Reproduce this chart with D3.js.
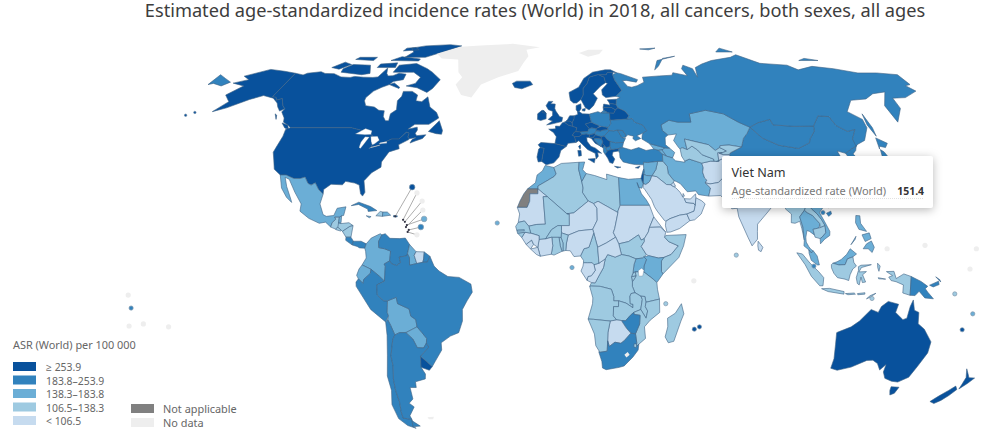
<!DOCTYPE html>
<html><head><meta charset="utf-8">
<script src="https://cdn.jsdelivr.net/npm/d3@7"></script>
<style>
html,body{margin:0;padding:0;background:#fff;overflow:hidden}
text,.title{font-family:"Noto Sans","Open Sans",sans-serif}
svg{position:absolute;left:0;top:0}
.title{position:absolute;left:0;top:1px;width:1070px;height:18px;line-height:18px;text-align:center;font-size:18.2px;color:#3d3d3d;white-space:nowrap}
</style></head><body><svg id="c" width="1000" height="432"></svg>
<script>
const chartTitle = "Estimated age-standardized incidence rates (World) in 2018, all cancers, both sexes, all ages";
const legendTitle = "ASR (World) per 100 000";
const legendLabels = ["\u2265 253.9","183.8\u2013253.9","138.3\u2013183.8","106.5\u2013138.3","< 106.5"];
const extraLabels = ["Not applicable","No data"];
const tooltipCountry = "Viet Nam", tooltipMeasure = "Age-standardized rate (World)", tooltipValue = "151.4";

const classHighest = ["United States","Canada","Australia","New Zealand","Uruguay","Ireland","United Kingdom","France","Spain","Portugal","Belgium","Netherlands","Germany","Denmark","Norway","Sweden","Finland","Iceland","Italy","Switzerland","Slovenia","Czechia","Slovakia","Croatia","Serbia","Greece","Latvia","Lithuania","Estonia","Belarus","Montenegro","Cyprus","Israel"];
const classHigh = ["Russia","China","Mongolia","Turkey","Poland","Ukraine","Romania","Bulgaria","Moldova","Austria","Hungary","Bosnia","Albania","North Macedonia","Brazil","Argentina","Chile","Peru","Venezuela","French Guiana","Cuba","Panama","Costa Rica","South Africa","Zimbabwe","Papua New Guinea","Japan","South Korea","North Korea","Taiwan","Lebanon","Puerto Rico"];
const classMid = ["Mexico","Colombia","Ecuador","Bolivia","Paraguay","Guyana","Belize","Kazakhstan","Iran","Egypt","Morocco","Kenya","Uganda","Thailand","Viet Nam","Malaysia","Philippines","Syria","Azerbaijan","Georgia","Armenia","Jordan","Dominican Republic","Jamaica","Nepal","Tunisia"];
const classLow = ["Algeria","Libya","Mali","Senegal","Gambia","Guinea-Bissau","Burkina Faso","Ghana","Togo","Benin","Cameroon","DR Congo","Angola","Zambia","Tanzania","Mozambique","Malawi","Namibia","Madagascar","Rwanda","Burundi","Somalia","South Sudan","Indonesia","Uzbekistan","Turkmenistan","Kyrgyzstan","Myanmar","Laos","Cambodia","Iraq","Honduras","Guatemala","El Salvador","Nicaragua","Haiti","Eswatini"];
const classLowest = ["Mauritania","Niger","Chad","Sudan","Ethiopia","Eritrea","Saudi Arabia","Yemen","Oman","UAE","Kuwait","Qatar","Afghanistan","Pakistan","India","Tajikistan","Nigeria","Central African Republic","Congo","Gabon","Botswana","Suriname","Sierra Leone","Liberia","Guinea","Cote d'Ivoire","Sri Lanka","Bhutan","Bangladesh"];
const classNotApplicable = ["Western Sahara"];
const classNoData = ["Greenland","Svalbard","Falkland Islands","Lesotho"];

const outlines = {
"Canada":["-141,69.6 -136,68.9 -134.5,69.6 -128,70.2 -125,69.5 -120,69.4 -115,68.1 -110,67.9 -108,68.3 -103,68 -98,67.9 -95.5,68.1 -94,71.8 -92,69.5 -90.5,68.5 -88,68.6 -85.5,69.6 -81.5,69.2 -81.3,67 -86,66.3 -87,65 -90,64 -93,62.5 -94.8,60 -94.5,58.8 -92.5,57 -88,56.5 -85,55.3 -82.3,55.1 -82,53 -80.5,51.5 -79,51.5 -79,54 -76.8,55.5 -78.5,58.8 -77.5,60.5 -78,62.4 -73.5,62.4 -70,61 -69.5,58.8 -66.5,58.5 -64.5,60.3 -61.5,56.5 -57.5,54.5 -56,52.5 -60,50.2 -66.5,50.2 -69,48.5 -65,49.2 -64.5,48.2 -65,47 -64,46.2 -60,46.5 -61,45.2 -64,44.3 -66,43.6 -65.5,44.8 -64,45.5 -66.9,45.1 -67.8,45.7 -67.8,47.1 -69.2,47.4 -70.5,46 -71.5,45 -74.7,45 -76.5,44.2 -79,43.4 -79,42.8 -82.5,42 -82.5,45.3 -84.5,46.5 -88.4,48.3 -89.5,48 -95,49 -123,49 -125,50 -127.5,51 -128,52.5 -130.3,54.7 -130,55.9 -132,56.9 -135.5,59.7 -137.5,59 -139,60.1 -141,60.3","-128,50.7 -125,50 -123.4,48.4 -125.5,48.9","-59.3,47.7 -55.5,51.5 -53,48 -53,46.7 -55.5,46.9","-80,73.7 -72,71.5 -68,70 -62,67 -64,63.5 -66,62 -72,63.8 -78,64.5 -74,65.5 -73,68 -78,70 -89,70 -89,73","-117,70 -105,69 -101,69.5 -105,73 -115,73.3 -118,71.5","-125,72 -121,74.3 -116,73.3 -120,71.3","-90,76.5 -78,76.5 -72,78.5 -62,82.3 -70,83 -85,82.3 -92,81 -88,79","-96,75 -80,74.8 -80,75.7 -92,76.8","-117,75.5 -106,75 -106,76.5 -116,76.5","-95,79.5 -86,80 -90,81.4 -95,81","-100,72 -90,72 -91,74 -100,73.5","-87,65 -81,63.5 -81,64 -85,65.7","-133,54 -131.5,52 -132,53.5"],
"United States":["-123,49 -124.7,48.4 -124,46 -124.2,42 -124.3,40.4 -122.5,37.7 -120.6,34.5 -117.2,32.5 -114.8,32.5 -111,31.3 -108.2,31.3 -106.5,31.8 -104.5,29.6 -103,29 -101.5,29.8 -99.5,27.5 -97.2,25.9 -97.4,27.5 -94.8,29.3 -90,29.1 -89,30.3 -85,29.7 -83,29 -81.8,26 -80.8,25.2 -80.1,26.5 -81.4,30.5 -79,33.3 -75.6,35.2 -76,37 -74,40.5 -70,41.6 -70.8,43 -67,44.8 -66.9,45.1 -67.8,45.7 -67.8,47.1 -69.2,47.4 -70.5,46 -71.5,45 -74.7,45 -76.5,44.2 -79,43.4 -79,42.8 -82.5,42 -82.5,45.3 -84.5,46.5 -88.4,48.3 -89.5,48 -95,49","-141,69.6 -141,60.3 -139,60.1 -137.5,59 -135.5,59.7 -132,56.9 -130,55.9 -131.5,55 -134,56.5 -136,58 -140,59.8 -146,60.8 -151,59.3 -154,58 -158,56.2 -163,54.8 -160,58.5 -162,59.5 -165,61 -161,64.5 -168,65.6 -162,67 -166.5,68.4 -157,71.2 -148,70.4"],
"Mexico":["-117.2,32.5 -114.8,32.5 -111,31.3 -108.2,31.3 -106.5,31.8 -104.5,29.6 -103,29 -101.5,29.8 -99.5,27.5 -97.2,25.9 -97.8,22.5 -95.9,18.8 -94.5,18.2 -91.5,18.5 -90.5,21 -87,21.5 -87.5,18.5 -88.3,18.4 -89.15,17.9 -91,17.9 -90.5,17.2 -91.8,16 -92.2,14.5 -94.5,16.2 -97,15.8 -101.5,17.5 -105.5,20 -105.5,22.5 -109,26.5 -112.8,31 -114.8,31.7 -113,28.5 -110,24 -109.5,23 -112,24.8 -115,28"],
"Guatemala":["-92.2,14.5 -91.8,16 -90.5,17.2 -91,17.9 -89.15,17.9 -89.2,15.9 -88.2,15.7 -89.3,14.4 -90.2,13.8"],
"Belize":["-89.15,17.9 -88.3,18.4 -88.2,16 -89.2,15.9"],
"Honduras":["-89.2,15.9 -88.2,15.7 -85,16 -83.2,15 -84.5,14.7 -87.3,13 -87.8,13.4 -89.3,14.4"],
"El Salvador":["-90.2,13.8 -89.3,14.4 -87.8,13.4 -88,13.1 -90,13.6"],
"Nicaragua":["-87.3,13 -84.5,14.7 -83.2,15 -83.7,11 -85.7,11"],
"Costa Rica":["-85.7,11 -83.7,11 -82.6,9.6 -83,8.3 -85.7,9.9"],
"Panama":["-83,8.3 -82.6,9.6 -79.5,9.6 -77.4,8.7 -77.9,7.2 -80,7.3 -81,7.8"],
"Colombia":["-77.4,8.7 -75.5,10.7 -72,12.2 -71.3,11.8 -72.5,9.5 -72.3,7.4 -70,7 -67.5,6.2 -67.8,2.8 -70,1.7 -69.5,1 -69.9,-4.2 -72,-2.4 -75.2,-0.1 -78.8,1.4 -77.2,3.8 -77.5,6 -77.9,7.2"],
"Venezuela":["-71.3,11.8 -70,12.2 -68,10.6 -64,10.5 -61.8,10.7 -60,8.5 -60.7,5.2 -61.2,4.5 -64,4.1 -63.4,2.2 -65,1.2 -67,1.8 -67.8,2.8 -67.5,6.2 -70,7 -72.3,7.4 -72.5,9.5"],
"Guyana":["-60,8.5 -57.3,6 -58,4.7 -56.9,1.9 -59.8,1.3 -59.9,3.9 -60.7,5.2"],
"Suriname":["-57.3,6 -54,5.9 -54.2,3.5 -54.5,2.3 -56.9,1.9 -58,4.7"],
"French Guiana":["-54,5.9 -51.7,4.4 -52.7,2.4 -54.5,2.3 -54.2,3.5"],
"Ecuador":["-78.8,1.4 -75.2,-0.1 -75.5,-1.5 -78.2,-3.6 -78.5,-5 -80.3,-3.4 -81,-2.2 -80,0"],
"Peru":["-80.3,-3.4 -78.5,-5 -78.2,-3.6 -75.5,-1.5 -75.2,-0.1 -72,-2.4 -69.9,-4.2 -73,-5.5 -73,-9 -70.5,-11 -69,-11 -69.4,-15 -69,-16.2 -70.4,-18.3 -76,-14 -81.3,-6 -81.3,-4.5"],
"Bolivia":["-69,-11 -65.4,-9.8 -65,-12 -60.5,-13.8 -60,-16.3 -58.1,-17.5 -57.8,-20 -62.6,-22 -65.2,-22 -67.2,-22.8 -68.5,-19.5 -69.5,-17.5 -69,-16.2 -69.4,-15"],
"Paraguay":["-62.6,-22 -57.8,-20 -56,-22 -54.3,-24 -54.6,-25.6 -56,-27.3 -58.6,-27.2 -60,-24.2"],
"Chile":["-70.4,-18.3 -69.5,-17.5 -68.5,-19.5 -67.2,-22.8 -68.3,-24.5 -70,-30 -70,-33.5 -71.2,-38 -71.7,-42 -71.6,-46 -72.5,-49.5 -72.3,-51.8 -68.4,-52.3 -68.6,-54.9 -67.5,-55.5 -71,-54.5 -74.5,-52 -75.5,-47 -73.5,-42 -73.5,-37 -71.5,-30 -70.4,-23"],
"Argentina":["-65.2,-22 -62.6,-22 -60,-24.2 -58.6,-27.2 -56,-27.3 -54.6,-25.6 -53.8,-27 -57.7,-30.2 -58.3,-34 -57,-36.3 -57.5,-38 -62,-39 -62.3,-41 -65,-41 -65.2,-45 -67.5,-46.5 -65.8,-47.8 -69,-51 -68.4,-52.3 -72.3,-51.8 -72.5,-49.5 -71.6,-46 -71.7,-42 -71.2,-38 -70,-33.5 -70,-30 -68.3,-24.5 -67.2,-22.8","-68.6,-52.7 -65.2,-54.7 -68.6,-54.9"],
"Uruguay":["-57.7,-30.2 -53.5,-33.7 -55,-35 -58.3,-34"],
"Brazil":["-59.9,3.9 -59.8,1.3 -56.9,1.9 -54.5,2.3 -52.7,2.4 -51.7,4.4 -50,1 -48,-0.7 -44.5,-2.6 -40,-2.9 -35.3,-5.2 -34.8,-8 -37,-11 -39,-14 -39.2,-18 -41,-22 -44.5,-23.2 -48.5,-25.5 -48.6,-28 -52,-32 -53.5,-33.7 -57.7,-30.2 -53.8,-27 -54.6,-25.6 -54.3,-24 -56,-22 -57.8,-20 -58.1,-17.5 -60,-16.3 -60.5,-13.8 -65,-12 -65.4,-9.8 -69,-11 -70.5,-11 -73,-9 -73,-5.5 -69.9,-4.2 -69.5,1 -70,1.7 -67.8,2.8 -67,1.8 -65,1.2 -63.4,2.2 -64,4.1 -61.2,4.5 -60.7,5.2"],
"Cuba":["-84.9,21.9 -82,23.1 -77,21.6 -74.2,20.2 -77.7,19.9 -78,20.7 -82,22.3"],
"Haiti":["-74.4,18.4 -72.8,19.9 -71.7,19.7 -71.7,18.2"],
"Dominican Republic":["-71.7,19.7 -69.9,19.7 -68.4,18.6 -71.7,18.2"],
"Puerto Rico":["-67.2,18.5 -65.7,18.4 -65.7,18 -67.2,18"],
"Jamaica":["-78.3,18.4 -76.3,18.1 -77,17.7"],
"Greenland":["-73,78.2 -68,76 -58,75.5 -54,70 -51,68 -53,65 -48.5,61 -43,60 -40,65 -32,68 -22,70.5 -20,74 -18,77 -20,80 -12,81.5 -30,83.5 -50,82.5 -62,81.8"],
"Svalbard":["12,78.5 17,76.8 24,78 27,80 18,80"],
"Falkland Islands":["-61,-51.5 -58,-51.3 -58.5,-52.2 -60.5,-52.2"],
"Iceland":["-24,65.5 -22,66.4 -15,66.4 -13.5,65 -18.8,63.4 -22.5,63.9"],
"Ireland":["-10,52 -10,54 -8,55.3 -7.2,55.2 -6,54.2 -6,52.2 -8.5,51.6"],
"United Kingdom":["-5.7,50 -3.5,50.3 1.3,51.2 1.7,52.7 0.3,53 -1.5,55 -2,56 -1.8,57.6 -4,57.7 -3,58.6 -5,58.6 -6.2,57 -5,55.5 -3,54.9 -3,53.4 -5,52 -3,51.4","-6,54.2 -7.2,55.2 -8,54.5"],
"Portugal":["-9.5,38.7 -8.9,37 -7.4,37.2 -7,39.5 -6.5,41.8 -8.2,42 -8.9,41.5"],
"Spain":["-9.2,43 -8.2,42 -6.5,41.8 -7,39.5 -7.4,37.2 -5.5,36 -2.2,36.7 0,38.7 0.8,41 3.2,42.4 -1.8,43.4 -8,43.8"],
"France":["-1.8,43.4 3.2,42.4 4,43.5 7.5,43.8 7,45.9 6,46.3 7,47.5 7.6,47.6 8.2,49 6.2,49.5 4.2,50 2.5,51 1.6,50.8 0.3,49.5 -1.6,49.6 -1.6,48.6 -4.7,48.5 -2.5,47.3 -1.2,45.8","8.6,42.4 9.4,43 9.5,42 9.2,41.4"],
"Belgium":["2.5,51 4.2,50 6.2,49.5 6.1,50.8 5,51.4 3.4,51.4"],
"Netherlands":["3.4,51.4 5,51.4 6.1,50.8 7,52.2 7.1,53.3 5,53.3 4,52"],
"Germany":["7.1,53.3 7,52.2 6.1,50.8 6.2,49.5 8.2,49 7.6,47.6 9.6,47.5 13,47.6 13.8,48.7 12.2,50.3 15,51 14.2,53.9 11,54 9.5,54.8 8.7,54.8 8.8,53.8"],
"Denmark":["8.7,54.8 9.5,54.8 10.5,56 10.5,57.7 8.2,57 8.1,55.5","11,55.7 12.5,56 12.2,55 11,55.1"],
"Switzerland":["6,46.3 7,45.9 9,45.9 10.4,46.6 9.6,47.5 7.6,47.6 7,47.5"],
"Austria":["9.6,47.5 10.4,46.6 12.3,46.8 13.7,46.5 16.1,46.9 17,48 17,48.7 15,49 13.8,48.7 13,47.6"],
"Italy":["7.5,43.8 8.8,44.4 10.5,43 12.5,41.3 15.7,40 16,38 17,39 16.8,40.3 18.5,40 16,41.8 14,42.5 12.5,44.2 12.4,45.5 13.6,45.6 13.7,46.5 12.3,46.8 10.4,46.6 9,45.9 7,45.9","12.5,38 15.6,38.2 15.1,36.7","8.2,41 9.6,41 9.7,39.2 8.5,39"],
"Slovenia":["13.6,45.5 15.3,45.5 16.5,46.5 16.1,46.9 13.7,46.5"],
"Croatia":["13.6,45.5 15.3,45.5 16.5,46.5 18.9,45.9 19,45 16,45.2 15.8,44.7 17.5,43 18.5,42.4 16,43.5 14.5,45.2"],
"Bosnia":["16,45.2 19,45 19.5,44 19.2,43.5 18.5,42.4 17.5,43 15.8,44.7"],
"Serbia":["19,45 18.9,45.9 20.3,46.1 21.5,44.8 22.7,44.2 22.4,42.4 20.6,41.9 20,42.8 19.2,43.5 19.5,44"],
"Montenegro":["19.2,43.5 20,42.8 19.4,41.9 18.5,42.4"],
"Albania":["19.4,41.9 20,42.8 20.6,41.9 21,40.9 21,40.6 20,39.7 19.4,40.5"],
"North Macedonia":["20.6,41.9 22.4,42.4 23,41.3 21,40.9"],
"Greece":["20,39.7 21,40.6 21,40.9 23,41.3 26.2,41.7 26,40.8 23.5,40.5 23,39.3 24,38 23,36.5 21.7,36.8 21,38.3","23.6,35.5 26.3,35.2 24.8,34.9"],
"Cyprus":["32.4,35 34.5,35.6 33.7,34.8"],
"Bulgaria":["22.7,44.2 25,43.7 28.6,43.8 27.8,42 26.2,41.7 23,41.3 22.4,42.4"],
"Romania":["20.3,46.1 21.5,44.8 22.7,44.2 25,43.7 28.6,43.8 29.7,45.2 28.2,45.5 26.6,48.2 24.9,47.9 22.9,48"],
"Moldova":["26.6,48.2 28.2,45.5 29.7,45.6 30,46.5 29,48"],
"Hungary":["16.1,46.9 16.5,46.5 18.9,45.9 20.3,46.1 22.9,48 22.1,48.4 20,48.2 18.8,47.8 17,48"],
"Slovakia":["17,48 18.8,47.8 20,48.2 22.1,48.4 22.5,49.1 19.5,49.5 17.5,48.9 17,48.7"],
"Czechia":["12.2,50.3 13.8,48.7 15,49 17,48.7 17.5,48.9 18.8,49.6 16.5,50.4 15,51"],
"Poland":["14.2,53.9 15,51 16.5,50.4 18.8,49.6 19.5,49.5 22.5,49.1 24,50.5 23.7,52 23.7,54.3 19.5,54.4 18.3,54.8"],
"Lithuania":["21,55.3 21,56.4 25,56.3 26.7,55.5 25.7,54.2 23.7,54.3 23,54.4"],
"Latvia":["21,56.4 21.5,57.6 24.4,57.2 24.4,57.9 27.3,57.5 28,56.2 26.7,55.5 25,56.3"],
"Estonia":["23.5,59.2 28,59.4 27.5,57.6 27.3,57.5 24.4,57.9 24,58.5"],
"Belarus":["23.7,52 23.7,54.3 25.7,54.2 26.7,55.5 28,56.2 31,55 32.7,53.4 31.5,52.1 23.9,51.7"],
"Ukraine":["24,50.5 22.5,49.1 22.1,48.4 22.9,48 24.9,47.9 26.6,48.2 29,48 30,46.5 29.7,45.6 31,46.5 33.5,46 33,45.2 34,44.4 36.5,45.2 35,46.2 38,47.1 40,48 38.5,50 35,51 34,52.3 31.5,52.1 23.9,51.7 23.7,52"],
"Russia":["30.8,69.8 33,69.4 41,67 40,66 35,66.7 33,66.6 35,64.3 37,64 40,64.6 44,66 44,68 53,68.5 60,68.8 61,69.8 68,68.6 67,71.5 69,73 73,71.5 73,68 75,72 80,73.5 87,75 100,76.5 105,77.7 113,73.8 127,73 130,71 140,72.5 150,71.5 160,69.7 170,69.7 180,69 180,65 177,64.6 179,62.5 170,60 163.5,59.8 162,56 156.8,51 155.8,57 163,62.2 156,61.5 150,59.5 142,59 135.5,54.8 141,52 141,49 136,44.5 131.5,43 130.7,42.4 131,45 135,48.4 131,47.7 127.5,49.8 126,53 121,53.3 117,49.6 108,49.5 98.7,50 98,52 92,50.8 87.5,49.2 83,51 77,54 71,55 69,55.3 61,54 61,51 55,51 51,51.7 47,50 47,48 49,46.4 47.5,45.5 47,43 48.5,41.8 46.5,41.9 43.5,42.6 40,43.4 37,45 37.5,46.5 38,47.1 40,48 38.5,50 35,51 34,52.3 31.5,52.1 32.7,53.4 31,55 28,56.2 27.3,57.5 27.5,57.6 28,59.4 30,60 28,60.5 31.5,62.8 29,66.9 28.5,69","-180,69 -175,67.5 -170,66 -172.5,64.5 -178,65.5 -180,65","52,71 56,75 68,77 60,76 55,72.5","95,79 105,79 100,81","137,75 148,75 142,76","142,54 143.5,49 142.5,46 142,50","50,80.5 60,81 55,80","19.7,54.4 23,54.4 21,55.3"],
"Finland":["21,69 23.7,68 24,65.8 25,65.5 21.5,63 21.5,61 23,60 28,60.5 31.5,62.8 29,66.9 28.5,69 29,70 26,70 25,69"],
"Norway":["5,62 5.5,59 7,58 8.5,58 10.7,59.3 12,61 12.2,63.5 14.5,65.5 16,68 20.6,69 21,69 25,69 26,70 29,70 30.8,69.8 28,71 25,71 18,70 13,67.5 10,64"],
"Sweden":["10.7,59.3 12.5,56.3 14.2,55.4 16.5,57 18.8,59.8 17,61.5 21.3,64.5 24,65.8 23.7,68 21,69 20.6,69 16,68 14.5,65.5 12.2,63.5 12,61"],
"Turkey":["26.2,41.7 28,42 31.5,41.2 35,42 38,41 41.5,41.5 43.5,41.1 44.8,39.7 44.5,37.2 42.3,37.2 38,36.8 36.2,36.9 36,36 32.5,36.1 30.5,36.4 27.5,37 26.3,38.5 26.3,40 26,40.8"],
"Georgia":["40,43.4 43.5,42.6 46.5,41.9 45,41.2 43.5,41.1 41.5,41.5"],
"Armenia":["43.5,41.1 45,41.2 46.5,39 44.8,39.7"],
"Azerbaijan":["45,41.2 46.5,41.9 48.5,41.8 50.3,40.3 48.9,38.4 46.5,39"],
"Iran":["44.8,39.7 46.5,39 48.9,38.4 50,37.4 53.9,36.9 53.9,37.3 56,38 61,36.6 61.2,35 60.6,33.5 61,31.4 61.8,30.7 60.9,29.8 62.8,28 61.6,25.2 57.5,25.7 56.5,27 53,26.7 50.5,29.5 48.8,30.3 48,30.5 46,33 46,35.5 44.5,37.2"],
"Iraq":["42.3,37.2 44.5,37.2 46,35.5 46,33 48,30.5 47.7,30 46.5,29.1 44.7,29.2 41,31.9 39,32.2 41,34.4"],
"Syria":["36.2,36.9 38,36.8 42.3,37.2 41,34.4 39,32.2 36.8,32.3 35.6,32.7 35.9,33.5 35.9,34.6 36,36"],
"Lebanon":["35.1,33.1 35.6,32.7 35.9,33.5 35.9,34.6 35.5,34"],
"Jordan":["35,29.5 36.1,29.2 37.5,30 38,30.5 39,32.2 36.8,32.3 35.6,32.7"],
"Israel":["34.3,31.3 35,29.5 35.6,32.7 35.1,33.1"],
"Saudi Arabia":["35,29.5 36.1,29.2 37.5,30 38,30.5 39,32.2 41,31.9 44.7,29.2 46.5,29.1 47.5,28.5 48.5,28 50,26.5 50.8,25 51.5,24.3 52,23 55.2,22.7 55.7,22 55,20 52,19 49,18.6 45,17.4 43.3,16.5 42.7,16.8 40,20 39,21.5 38,24 35.5,27.5 34.9,28.1"],
"Yemen":["43.3,16.5 45,17.4 49,18.6 52,19 53,16.7 48.7,14 45,12.8 43.5,12.7 43,15"],
"Oman":["52,19 55,20 55.7,22 56.2,24.7 56.5,24.5 58.5,23.6 59.8,22.5 57.8,19 55,17 53,16.7"],
"UAE":["51.5,24.3 52,23 55.2,22.7 55.7,22 56.2,24.7 56.3,26 54,24.2"],
"Qatar":["50.8,25 51.2,26.1 51.6,25.2"],
"Kuwait":["47.7,30 48.4,28.6 47.5,28.5 46.5,29.1"],
"Afghanistan":["61,36.6 65,37.3 67.5,37.2 70,38 71.5,37 74.8,37.3 71.5,36.3 71,34 69.3,31.9 66.4,29.9 62.8,29.4 60.9,29.8 61.8,30.7 61,31.4 60.6,33.5 61.2,35"],
"Pakistan":["60.9,29.8 62.8,29.4 66.4,29.9 69.3,31.9 71,34 71.5,36.3 74.8,37.3 77.8,35.5 74,33 75,32 73.5,30 70,28 71,25 68.2,23.8 66.5,25.4 61.6,25.2 62.8,28"],
"India":["68.2,23.8 71,25 70,28 73.5,30 75,32 74,33 77.8,35.5 79,32.5 81,30.2 80.1,28.8 84,27.4 88,26.4 88.2,27.9 89,27 92,26.8 94,29.2 97.3,28.2 95,25.5 94,23.9 93.3,22 92.5,22.5 92,25 88.5,25.5 89,22 87,21.5 85,19.7 80.3,15.5 80,13 79.8,10.3 77.5,8 76,11 73,18 72.7,21 70.5,20.8 69,22.3"],
"Nepal":["80.1,28.8 81,30.2 84,29 88.2,27.9 88,26.4 84,27.4"],
"Bhutan":["89,27 92,26.8 92,28 89.5,28.1 88.2,27.9"],
"Bangladesh":["88.5,25.5 92,25 92.5,22.5 91.5,22.5 89,22"],
"Sri Lanka":["80,9.6 81.8,7.5 81,6 80,6.5 79.8,8"],
"Myanmar":["92.3,20.8 93.3,22 94,23.9 95,25.5 97.3,28.2 98.7,27.5 98,24 101,21.8 100,20.3 97.7,18 98.5,14.5 98.6,10 98,14 97.5,16.5 95.5,15.8 94,16 94.5,19"],
"Thailand":["97.7,18 100,20.3 101,19.5 103,18.5 105.5,15.7 105,14.2 102.5,13.7 102.9,11.7 101,13 100,13.3 99.3,11 99.3,9.3 100.2,7.8 101,6.8 102,6.2 101,5.6 100.2,6.6 98.3,8 98.6,10 98.5,14.5"],
"Laos":["101,21.8 102,22.4 103,20.8 105,19 106.5,17 107.5,15 105.5,14.3 105.5,15.7 103,18.5 101,19.5 100,20.3"],
"Cambodia":["102.5,13.7 105,14.2 105.5,14.3 107.5,15 107.5,12.5 105.8,11 105,10.5 103,11"],
"Viet Nam":["102,22.4 105.5,23 108,21.5 106,19.5 107.5,16.5 109.2,13 109,11.6 106.8,10.3 105,8.7 105,10.5 105.8,11 107.5,12.5 107.5,15 106.5,17 105,19 103,20.8"],
"China":["74.8,37.3 77.8,35.5 79,32.5 81,30.2 84,29 88.2,27.9 89.5,28.1 92,28 94,29.2 97.3,28.2 98.7,27.5 98,24 101,21.8 102,22.4 105.5,23 108,21.5 110,21.2 113.5,22.3 117,23.5 120,26.5 122,30 120.5,33 119,35 122.5,37 119,37.5 118,39 121.5,39 121.3,40.8 124.4,40 128,41.5 130.7,42.4 131.5,43 131,45 135,48.4 131,47.7 127.5,49.8 126,53 121,53.3 117,49.6 116,47.8 112,45 111,43.7 105,41.7 97,42.8 91,45.3 87.5,49.2 85,47 82.5,45.3 80.2,42.2 74.5,40.2 73.7,39.5","108.8,19.3 110.7,20 110.8,19 109.5,18.2"],
"Mongolia":["87.5,49.2 91,45.3 97,42.8 105,41.7 111,43.7 112,45 116,47.8 117,49.6 108,49.5 98.7,50 98,52 92,50.8"],
"North Korea":["124.4,40 125,38 126.5,37.8 128.3,38.6 127.5,39.8 129.5,41 130.7,42.4 128,41.5"],
"South Korea":["126.5,37.8 125.3,34.5 127.5,34.7 129.3,35.3 129.5,37 128.3,38.6"],
"Japan":["130.9,34 133,35.5 136,35.7 137,37 139.5,38.5 140.5,41.3 141.5,40.5 142,39 141,36 140,35 137,34.6 135.5,33.7 133,34.3 131.5,34","130,33.5 131.7,33.5 131,31.3 130.3,31.5","132.5,33.9 134.5,34.2 134,33.4 133,32.8","140.3,41.5 141.7,45.4 145.3,43.5 143.3,42 141,42.5"],
"Taiwan":["120.2,23 121,25 122,25 121,22"],
"Kazakhstan":["47,50 51,51.7 55,51 61,51 61,54 69,55.3 71,55 77,54 83,51 87.5,49.2 85,47 82.5,45.3 80.2,42.2 75,42.9 71,42.7 70.5,42 68.2,41 66,43 61,44 56,45 56,41.3 54,42 53,41.5 52.5,42 51,44.5 53,46.8 49,46.4 47,48"],
"Turkmenistan":["53,41.5 54,42 56,41.3 58.5,42.5 60.5,41.2 62,39.5 66.5,38 66.5,37.3 65,37.3 61,36.6 56,38 53.9,37.3 53,39"],
"Uzbekistan":["56,45 61,44 66,43 68.2,41 70.5,42 71.7,41.5 73,40.8 71,40.2 69,40.2 68.5,37.2 67.5,37.2 66.5,37.3 66.5,38 62,39.5 60.5,41.2 58.5,42.5 56,41.3"],
"Kyrgyzstan":["71,42.7 75,42.9 80.2,42.2 74.5,40.2 73.7,39.5 71,39.5 69.5,40 71,40.2 73,40.8 71.7,41.5 70.5,42"],
"Tajikistan":["68.5,37.2 69,40.2 71,40.2 69.5,40 71,39.5 73.7,39.5 74.8,37.3 71.5,37 70,38 67.5,37.2"],
"Malaysia":["100.2,6.6 101,5.6 102,6.2 103.4,4.5 104.2,1.4 103.4,1.4 101,3 100.2,5.5","109.6,2 111.3,2.5 113,3.3 115.2,5 116.8,7 119.2,5.2 117.7,4.2 115.5,3.5 114.5,1.5 112,1.4"],
"Indonesia":["95.3,5.6 97.5,5.2 100.5,2 104,-1 106,-3 105.8,-5.8 104.5,-5.8 101,-2.5 98.5,1.5","105.3,-6.8 108.5,-6.7 114.4,-7.8 114.4,-8.7 108,-7.8","109,1.5 109.6,2 112,1.4 114.5,1.5 115.5,3.5 117.7,4.2 118,2.3 119,1 117.5,0 116.5,-2 116,-4 114.5,-3.5 111.5,-3 110,-1.5 109,0.4","119.8,0.8 120.8,1.3 125,1.5 121,0.5 120,-1 123,-0.9 121.5,-2 122.8,-4.5 121.5,-4.7 120.9,-2.8 120.3,-5.5 119.5,-5 119,-3 119.8,-0.5","115,-8.5 116.7,-8.4 118.5,-8.3 119,-8.7 116,-8.9","119.8,-8.5 122.8,-8.2 122.8,-8.7 120,-8.9","123.6,-10.3 125,-9.2 127.2,-8.4 125,-9.8","131,-0.9 134,-0.8 135,-3.3 138,-1.7 141,-2.6 141,-9.1 138,-8.3 138,-5.5 135,-4.4 133,-4 132,-2.8 133.5,-2.3","127.8,-3 130.8,-3.5 128,-3.4","127.5,2 128.5,1 128,-0.8 127.5,0.5"],
"Papua New Guinea":["141,-2.6 145,-4.3 147.8,-6 146.9,-6.8 148,-8 150.5,-10.3 147,-10 144.5,-7.7 143,-9.2 141,-9.1","148.5,-5.6 152,-4.2 152.3,-5.4 150,-6.2","150.8,-2.7 152.9,-4.5 152.5,-3.7"],
"Philippines":["120.6,18.5 122.2,18.4 122,15.8 124,13 121,13.7 120,16","122,7 123.5,8.7 125.5,9.7 126.5,7.5 125.5,5.7 124,7","117.2,8.4 119.5,11.3 119,10.2","122,11.8 125,12.5 125.5,10.5 123,9.5"],
"Australia":["113.5,-22 114,-26 115,-31 115,-34.3 118,-35 123.5,-33.9 129,-31.6 131.5,-31.5 134,-32.7 136,-34.9 137.8,-33 138,-35.6 140,-37.8 143.5,-38.8 146.4,-39.1 150,-37.4 151.3,-33.8 153.2,-29 153,-25.2 149,-20.8 146,-18.9 145.4,-15 143.5,-14.3 142.5,-10.7 141.6,-13 141,-17 139.5,-17.5 136,-15 136.8,-12.2 132.5,-11.2 130,-13 129,-15 126,-14 122,-18 119,-20 114,-21.8","144.7,-40.7 148.3,-40.9 148,-43 146.5,-43.6 145.2,-42"],
"New Zealand":["172.7,-34.5 174.5,-36.2 176,-37.6 178.5,-37.7 177,-39.5 175,-41.5 174.8,-39.8 174.7,-37.5","172.7,-40.5 174.3,-41.7 172.8,-43.8 171,-45.5 169,-46.6 166.5,-45.9 168.5,-44 171,-42"],
"Morocco":["-5.9,35.8 -2.2,35.1 -1.2,32.9 -2,32 -5,30.5 -8.7,28.7 -8.7,27.7 -13,27.7 -9.8,29.8 -9.2,32.5 -7,33.9"],
"Western Sahara":["-13,27.7 -8.7,27.7 -8.7,26 -12,26 -12,23.4 -13,21.3 -17,21.3 -16,23.5 -14.5,26"],
"Algeria":["-2.2,35.1 1,36.5 8.6,36.9 8.3,34.5 9.5,30.2 10,28 9.7,26.5 12,23.5 6,19.4 3.2,19.1 -4.8,25 -8.7,27.7 -8.7,28.7 -5,30.5 -2,32 -1.2,32.9"],
"Tunisia":["8.6,36.9 11,37 10,34.3 11.5,33 9.5,30.2 8.3,34.5"],
"Libya":["9.5,30.2 11.5,33 15,32.3 20,30.9 20,32.8 25,31.6 25,22 24,20 24,19.5 16,23.4 14.2,22.6 12,23.5 9.7,26.5 10,28"],
"Egypt":["25,31.6 29,31 32,31.2 34.3,31.3 35,29.5 34.3,27.9 33,28.2 32.5,29.9 34,26 35.8,23.9 37,22 25,22"],
"Mauritania":["-17,21.3 -13,21.3 -12,23.4 -12,26 -8.7,26 -8.7,27.7 -4.8,25 -6.5,25 -5.5,15.5 -9,15.4 -12.2,14.8 -14,16.6 -16.5,16.1 -16,19"],
"Mali":["-4.8,25 3.2,19.1 4.2,19 4.2,15 1,15 -0.5,15 -3,13.6 -5.4,10.4 -8,10.2 -8,11.5 -11.4,12.4 -12.2,14.8 -9,15.4 -5.5,15.5 -6.5,25"],
"Niger":["3.2,19.1 6,19.4 12,23.5 14.2,22.6 15.5,21 15.5,16.9 13.6,13.7 8,13.2 3.7,11.7 1,12.5 1,13.3 1,15 4.2,15 4.2,19"],
"Chad":["14.2,22.6 16,23.4 24,19.5 22.5,14 21.9,12.6 22.8,11 19,9 15.5,7.5 14,12.5 13.6,13.7 15.5,16.9 15.5,21"],
"Sudan":["25,22 37,22 38.5,18 36.5,14.3 36,12.8 34.3,10.5 33,10 32,11.8 28,9.5 24,8.7 22.8,11 21.9,12.6 22.5,14 24,19.5 24,20"],
"South Sudan":["24,8.7 28,9.5 32,11.8 33,10 34.3,10.5 34.3,9.5 33,7.8 35,5 33.5,3.8 30.8,3.5 28,4.5 25,5"],
"Eritrea":["36.5,14.3 38.5,18 43,12.7 41,14.5 37,14.4"],
"Ethiopia":["36,12.8 36.5,14.3 37,14.4 41,14.5 43,12.7 42.5,11 44,9.5 47.9,8 44.9,5 42,4 39.8,3.8 35.9,4.6 35,5 33,7.8 34.3,9.5 34.3,10.5"],
"Somalia":["43,11.6 51.2,11.9 50,8 48,4 41.6,-1.7 41,-0.9 41,2.8 42,4 44.9,5 47.9,8 44,9.5 42.5,11"],
"Kenya":["34,4.2 35.9,4.6 39.8,3.8 42,4 41,2.8 41,-0.9 41.6,-1.7 39.2,-4.7 37.7,-3.5 33.9,-1 34,1 35,3.3"],
"Uganda":["30.8,3.5 33.5,3.8 34,4.2 35,3.3 34,1 33.9,-1 30.5,-1 29.6,-1.4 30,1.5"],
"Tanzania":["30.5,-1 33.9,-1 37.7,-3.5 39.2,-4.7 39.5,-7 40.4,-10.4 35,-11.5 34.5,-9.5 32.9,-9.4 30.5,-8.2 29.4,-6 29.4,-4.4 30.5,-3 30.8,-2.4"],
"Rwanda":["29.6,-1.4 30.5,-1 30.8,-2.4 29,-2.7"],
"Burundi":["29,-2.7 30.8,-2.4 30.5,-3 29.4,-4.4"],
"DR Congo":["30.8,3.5 30,1.5 29.6,-1.4 29,-2.7 29.4,-4.4 29.4,-6 30.5,-8.2 28.9,-8.5 28.5,-9.5 28.7,-12 29.8,-12.2 29.8,-13.4 27,-11.8 24,-11 22,-11 22,-9.5 21,-7 16.5,-6 13,-5.9 12.3,-6 13,-4.7 14.5,-4.8 16.2,-2 17.8,0.5 18.5,3.5 19.5,5 22.5,4.1 25,5 28,4.5"],
"Congo":["11.2,-3.9 13,-4.7 14.5,-4.8 16.2,-2 17.8,0.5 18.5,3.5 16,2 14,1.5 14.5,-0.5 13,-2.3 11.6,-2.6"],
"Gabon":["8.8,-0.7 9.6,1 9.8,2.2 11.3,2.2 13.3,2.2 14,1.5 14.5,-0.5 13,-2.3 11.6,-2.6 11.2,-3.9"],
"Cameroon":["8.6,4.5 9.8,3 9.8,2.2 11.3,2.2 13.3,2.2 14,1.5 16,2 15.5,7.5 14,12.5 13,10 12,7.5 10,7"],
"Central African Republic":["15.5,7.5 19,9 22.8,11 24,8.7 25,5 22.5,4.1 19.5,5 18.5,3.5 16,2"],
"Nigeria":["2.7,6.4 4.5,6.3 6,4.3 8.6,4.5 10,7 12,7.5 13,10 14,12.5 13.6,13.7 8,13.2 3.7,11.7 3,9"],
"Benin":["1.6,6.2 2.7,6.4 3,9 3.7,11.7 1,12.5 0.8,10.9 1.6,9"],
"Togo":["1.2,6.1 1.6,6.2 1.6,9 0.8,10.9 0,11 0.5,8"],
"Ghana":["-3.1,5.1 -2,4.8 1.2,6.1 0.5,8 0,11 -2.9,11 -2.5,8"],
"Burkina Faso":["-5.4,10.4 -3,13.6 -0.5,15 1,15 1,13.3 1,12.5 0.8,10.9 0,11 -2.9,11"],
"Cote d'Ivoire":["-8,10.2 -5.4,10.4 -2.9,11 -2.5,8 -3.1,5.1 -7.5,4.4 -8.5,7.5"],
"Liberia":["-11.4,6.9 -8.5,7.5 -7.5,4.4 -9,5"],
"Sierra Leone":["-13.2,8.5 -11,10 -10.2,8.5 -11.4,6.9"],
"Guinea":["-15,10.9 -13.7,12.7 -11.4,12.4 -8,11.5 -8,10.2 -8.5,7.5 -10.2,8.5 -11,10 -13.2,8.5"],
"Guinea-Bissau":["-16.7,12.4 -13.7,12.7 -15,10.9"],
"Senegal":["-17.5,14.7 -16.5,16.1 -14,16.6 -12.2,14.8 -11.4,12.4 -13.7,12.7 -16.7,12.4"],
"Gambia":["-16.8,13.5 -14,13.6 -14,13.2 -16.8,13.1"],
"Angola":["12.3,-6 13,-5.9 16.5,-6 21,-7 22,-9.5 22,-11 24,-11 24,-13 22,-13 22,-16.2 23.4,-17.6 20.8,-18 14,-17.4 11.8,-17.3 13.5,-12 13.6,-10"],
"Zambia":["22,-13 24,-13 24,-11 27,-11.8 29.8,-13.4 29.8,-12.2 28.7,-12 28.5,-9.5 28.9,-8.5 30.5,-8.2 32.9,-9.4 33.5,-10.5 33,-14 30.2,-15 28.9,-16 27,-17.9 25.3,-17.8 23.4,-17.6 22,-16.2"],
"Malawi":["32.9,-9.4 34.5,-9.5 35,-11.5 34.8,-13 35.8,-14.5 35.3,-17 33,-14 33.5,-10.5"],
"Mozambique":["35,-11.5 40.4,-10.4 40.7,-15 37,-17.7 34.8,-20 35.5,-24 32.9,-26 32,-26.8 32,-25.5 31.3,-22.4 32.8,-19 32.8,-16 30.4,-15.7 30.2,-15 33,-14 35.3,-17 35.8,-14.5 34.8,-13"],
"Zimbabwe":["25.3,-17.8 27,-17.9 28.9,-16 30.2,-15 30.4,-15.7 32.8,-16 32.8,-19 31.3,-22.4 29.4,-22.2 27.5,-20.5"],
"Botswana":["20,-22 20.8,-18 23.4,-17.6 25.3,-17.8 27.5,-20.5 29.4,-22.2 26.9,-24.7 25.5,-25.7 23,-25.3 20.8,-26.8 20,-24.8"],
"Namibia":["14,-17.4 20.8,-18 20,-22 20,-24.8 20,-28.4 17,-28.8 15.2,-26.5 14.5,-22.5 11.8,-17.3"],
"South Africa":["16.5,-28.6 17,-28.8 20,-28.4 20,-24.8 20.8,-26.8 23,-25.3 25.5,-25.7 26.9,-24.7 29.4,-22.2 31.3,-22.4 32,-25.5 32,-26.8 32.9,-26 32.8,-28 30.8,-30.5 27.5,-33.5 25.5,-34 20,-34.8 18.4,-34.2 18,-32"],
"Lesotho":["27.2,-29.6 28.5,-28.7 29.4,-29.6 28.2,-30.6"],
"Eswatini":["31,-25.8 32,-26 32,-27.2 30.9,-26.9"],
"Madagascar":["49.3,-12 50.5,-15.5 49.5,-18 47.2,-25 45,-25.5 43.5,-23.5 44.3,-20 44,-17 47,-15.3"]
};

const lakes = [
"-92,46.8 -88.4,48.7 -85,47.9 -84.8,46.6 -87.5,46.5",
"-87.8,42 -87,41.7 -86.3,43 -85,45.7 -87,45.8 -87.9,44",
"-84.5,45.9 -81.5,46 -80,44.6 -81.7,43.2 -82.5,43 -83.5,44.2",
"-83.4,41.7 -79,42.7 -79,43 -82.5,42.2",
"-79.7,43.3 -76.2,43.5 -76.4,44.1 -79.2,43.8"];
const lakeVictoria = ["31.7,-0.6 33,0.3 34,-0.4 33.5,-2.4 32,-2.5"];

const islandNames = ["Samoa","Tokelau","Tonga","Niue","Polynesia","Cape Verde","Sao Tome","Comoros","Reunion","Mauritius","Seychelles","Maldives","Singapore","Hong Kong","Timor-Leste","Palau","Micronesia","Marshall Is.","Nauru","Solomon Is.","New Caledonia","Vanuatu","Aleutians W","Aleutians E"];
const islandLons = [-172.6,-173,-175,-169,-159,-25,5.2,43,55.2,57.2,54,71,102,107.4,125.8,131.6,146.9,167.4,164.4,158.9,164.5,167.3,-174.6,-171];
const islandLats = [-13.5,-9,-19.7,-19,-20,15.9,0.5,-12,-20.8,-20,-4.1,4.8,1,19.5,-10.2,7,8.2,7,0,-8.6,-21,-15.5,53.5,54.5];
const islandClass = [1,"n","n","n","n",2,2,3,0,0,"n",3,1,1,3,"n","n","n","n",3,0,2,0,0];

const calloutNames = ["Bermuda","Anguilla","Antigua","Guadeloupe","Martinique","Barbados","Trinidad"];
const calloutLons = [-60.9,-58.6,-56.1,-55.5,-54.7,-55.8,-57.2];
const calloutLats = [28.3,26.3,23.5,20.4,17.3,14.5,11.8];
const calloutFromLons = [-66.5,-63.2,-62.4,-61.8,-61.5,-60.6,-61];
const calloutFromLats = [18.2,17,16.3,14.5,15.2,13.5,12.8];
const calloutClass = [0,"n","n","n",2,1,"n"];

const latKnots = d3.range(0,95,5);
const plenKnots = [1,.9986,.9954,.99,.9822,.973,.96,.9427,.9216,.8962,.8679,.85,.815,.78,.745,.70,.65,.60,.5322];
const pdfeKnots = [0,.062,.124,.186,.248,.31,.372,.434,.4958,.5571,.6176,.6769,.7346,.7903,.8435,.8936,.9394,.9761,1];
const plen = d3.scaleLinear().domain(latKnots).range(plenKnots);
const pdfe = d3.scaleLinear().domain(latKnots).range(pdfeKnots);
const xs = d3.scaleLinear().domain([-180,180]).range([109,1009]);
const ys = d3.scaleLinear().domain([-1,1]).range([502.3,35.7]);
function project(lon,lat){const a=Math.abs(lat);return [xs(lon*plen(a)),ys(Math.sign(lat)*pdfe(a))];}
const path = d3.geoPath(d3.geoTransform({point(x,y){const p=project(x,y);this.stream.point(p[0],p[1]);}}));

const fills = ["#08519c","#3182bd","#6baed6","#9ecae1","#c6dbef"];
const naFill = "#808080", noDataFill = "#eeeeee";
const fillOf = new Map();
[classHighest,classHigh,classMid,classLow,classLowest].forEach((g,i)=>g.forEach(n=>fillOf.set(n,fills[i])));
classNotApplicable.forEach(n=>fillOf.set(n,naFill));
classNoData.forEach(n=>fillOf.set(n,noDataFill));
const ring = s=>{const r=s.split(" ").map(p=>p.split(",").map(Number));r.push(r[0]);return r;};
const geom = rs=>({type:"MultiPolygon",coordinates:rs.map(r=>[ring(r)])});
const dotFill = c=>c==="n"?noDataFill:fills[c];

const svg = d3.select("#c");
d3.select("body").append("div").attr("class","title").text(chartTitle);

const borderColor = "#3f6384";
const noBorder = new Set(classNoData);
const order = Object.keys(outlines).sort((a,b)=>(a==="Russia")-(b==="Russia")||(a==="Lesotho")-(b==="Lesotho"));
const map = svg.append("g").style("filter","blur(0.3px)");
map.selectAll("path.country").data(order).join("path").attr("class","country")
  .attr("d",n=>path(geom(outlines[n])))
  .attr("fill",n=>fillOf.get(n)||fills[4])
  .attr("stroke",n=>noBorder.has(n)?"none":borderColor).attr("stroke-width",.6).attr("stroke-linejoin","round");
map.selectAll("path.lake").data(lakes.concat(lakeVictoria)).join("path").attr("class","lake")
  .attr("d",s=>path(geom([s]))).attr("fill","#fff").attr("stroke",borderColor).attr("stroke-width",.3);

const islands = islandNames.map((n,i)=>({n,lon:islandLons[i],lat:islandLats[i],c:islandClass[i]}));
map.selectAll("circle.island").data(islands).join("circle").attr("class","island")
  .attr("cx",d=>project(d.lon,d.lat)[0]).attr("cy",d=>project(d.lon,d.lat)[1]).attr("r",d=>d.c==="n"?2.6:(d.n.startsWith("Aleut")?1.2:2.1))
  .attr("fill",d=>dotFill(d.c)).attr("stroke",d=>d.c==="n"?"none":"#7f97ab").attr("stroke-width",.7);

const callouts = calloutNames.map((n,i)=>({n,a:project(calloutFromLons[i],calloutFromLats[i]),b:project(calloutLons[i],calloutLats[i]),c:calloutClass[i]}));
map.selectAll("line.lead").data(callouts).join("line").attr("class","lead")
  .attr("x1",d=>d.a[0]).attr("y1",d=>d.a[1]).attr("x2",d=>d.b[0]).attr("y2",d=>d.b[1])
  .attr("stroke","#999").attr("stroke-width",.8);
map.selectAll("circle.from").data(callouts).join("circle").attr("class","from")
  .attr("cx",d=>d.a[0]).attr("cy",d=>d.a[1]).attr("r",1.1).attr("fill","#334");
map.selectAll("circle.to").data(callouts).join("circle").attr("class","to")
  .attr("cx",d=>d.b[0]).attr("cy",d=>d.b[1]).attr("r",d=>d.c==="n"?2.6:2.8)
  .attr("fill",d=>dotFill(d.c)).attr("stroke",d=>d.c==="n"?"none":"#8aa0b2").attr("stroke-width",.7);

const tip = svg.append("g").attr("transform","translate(722,156)");
tip.append("rect").attr("width",211).attr("height",52).attr("rx",2).attr("fill","#fff").style("filter","drop-shadow(0 2px 5px rgba(0,0,0,.28))");
tip.append("text").attr("x",9.5).attr("y",21).attr("font-size",12.6).attr("fill","#333").text(tooltipCountry);
tip.append("text").attr("x",9.5).attr("y",38.5).attr("font-size",11).attr("fill","#777").text(tooltipMeasure);
tip.append("text").attr("x",202).attr("y",38.5).attr("text-anchor","end").attr("font-size",10.4).attr("font-weight",700).attr("fill","#333").text(tooltipValue);
tip.append("line").attr("x1",10).attr("x2",202).attr("y1",42.5).attr("y2",42.5).attr("stroke","#ccc").attr("stroke-width",.6).attr("stroke-dasharray","1 1");

const legend = svg.append("g");
legend.append("text").attr("x",13).attr("y",349).attr("font-size",10.9).attr("fill","#666").text(legendTitle);
const rowY = d3.scalePoint().domain(d3.range(5)).range([362,416]);
legend.selectAll("rect.k").data(fills).join("rect").attr("class","k").attr("x",13).attr("y",(d,i)=>rowY(i)).attr("width",23).attr("height",9).attr("fill",d=>d);
legend.selectAll("text.k").data(legendLabels).join("text").attr("class","k").attr("x",46).attr("y",(d,i)=>rowY(i)+9).attr("font-size",10.4).attr("fill","#666").text(d=>d);
const extraY = d3.scalePoint().domain([0,1]).range([404,418]);
legend.selectAll("rect.e").data([naFill,noDataFill]).join("rect").attr("class","e").attr("x",131).attr("y",(d,i)=>extraY(i)).attr("width",23).attr("height",9).attr("fill",d=>d);
legend.selectAll("text.e").data(extraLabels).join("text").attr("class","e").attr("x",163).attr("y",(d,i)=>extraY(i)+8.5).attr("font-size",10.9).attr("fill","#666").text(d=>d);
</script></body></html>
